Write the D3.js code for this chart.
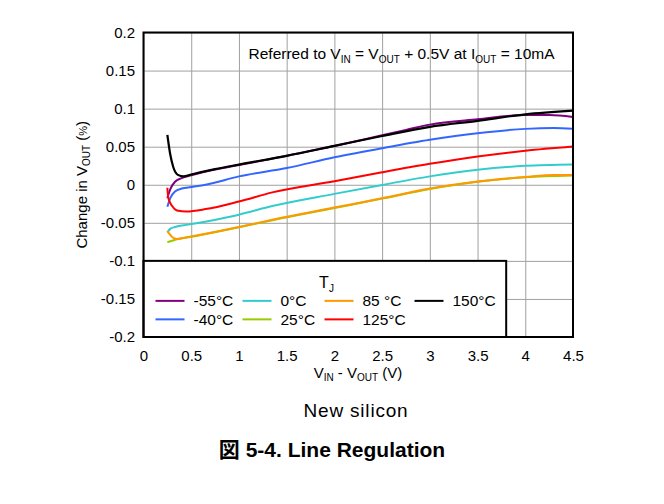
<!DOCTYPE html>
<html>
<head>
<meta charset="utf-8">
<script src="https://cdn.jsdelivr.net/npm/d3@7"></script>
<style>
    body { margin: 0; background: #fff; }
    text { font-family: "Liberation Sans", Arial, "Noto Sans CJK JP", sans-serif; fill: #000; }
</style>
</head>
<body>
<div id="chart"></div>
<script>
"use strict";

// series data: [VIN - VOUT (V), change in VOUT (%)]
let tjNames = ["-55°C", "-40°C", "0°C", "25°C", "85 °C", "125°C", "150°C"];
let tjColors = ["#800080", "#3366ff", "#33cccc", "#99cc00", "#ff9900", "#ff0000", "#000000"];

let seriesM55 = [[0.25, -0.0175], [0.28, -0.006], [0.33, 0.004], [0.4, 0.0088], [0.5, 0.0125], [0.75, 0.02],
    [1, 0.026], [1.5, 0.038], [2, 0.051], [2.5, 0.065], [2.75, 0.072], [3, 0.079], [3.5, 0.086],
    [4, 0.0915], [4.25, 0.0915], [4.5, 0.089]];
let seriesM40 = [[0.25, -0.029], [0.28, -0.0175], [0.33, -0.009], [0.4, -0.005], [0.5, -0.003], [0.65, 0.0],
    [1, 0.011], [1.5, 0.022], [2, 0.036], [2.5, 0.048], [3, 0.059], [3.5, 0.0677], [4, 0.0734],
    [4.3, 0.0745], [4.5, 0.0734]];
let series0 = [[0.25, -0.0625], [0.28, -0.058], [0.33, -0.0555], [0.47, -0.0524], [1, -0.0393], [1.35, -0.028],
    [2, -0.012], [2.5, -0.0002], [3, 0.011], [3.5, 0.0197], [4, 0.0249], [4.5, 0.0266]];
let series25 = [[0.25, -0.0756], [0.35, -0.0715], [0.47, -0.069], [1, -0.0558], [1.35, -0.0465], [2, -0.0305],
    [2.5, -0.0182], [3, -0.0055], [3.5, 0.004], [4, 0.0098], [4.5, 0.0122]];
let series85 = [[0.25, -0.061], [0.3, -0.0686], [0.35, -0.0712], [0.47, -0.0686], [1, -0.0555], [1.35, -0.046],
    [2, -0.03], [2.5, -0.0178], [3, -0.005], [3.5, 0.0043], [4, 0.0101], [4.3, 0.0127], [4.5, 0.0127]];
let series125 = [[0.25, -0.004], [0.26, -0.0175], [0.3, -0.028], [0.35, -0.0337], [0.45, -0.035], [0.65, -0.032],
    [1, -0.022], [1.35, -0.01], [2, 0.0046], [2.5, 0.0164], [3, 0.0275], [3.5, 0.0371], [4, 0.0446], [4.5, 0.0502]];
let series150 = [[0.25, 0.0655], [0.28, 0.04], [0.31, 0.024], [0.36, 0.013], [0.42, 0.011], [0.5, 0.0135],
    [0.75, 0.0205], [1, 0.0265], [1.5, 0.038], [2, 0.051], [2.5, 0.064], [3, 0.076], [3.5, 0.084],
    [4, 0.0925], [4.5, 0.0974]];

let allSeries = [seriesM55, seriesM40, series0, series25, series85, series125, series150];

let xTicks = [0, 0.5, 1, 1.5, 2, 2.5, 3, 3.5, 4, 4.5];
let yTicks = [0.2, 0.15, 0.1, 0.05, 0, -0.05, -0.1, -0.15, -0.2];

// plain hyphen for negative tick labels
function tickText(d) {
    return d3.format("~g")(d).replace("\u2212", "-");
}

function draw() {
    let width = 664;
    let height = 504;
    let margin = { top: 32.5, left: 143.5, right: 91, bottom: 167 };
    let plotW = width - margin.left - margin.right;
    let plotH = height - margin.top - margin.bottom;

    let svg = d3.select("#chart").append("svg")
        .attr("width", width)
        .attr("height", height);

    let g = svg.append("g")
        .attr("transform", `translate(${margin.left},${margin.top})`);

    let xScale = d3.scaleLinear().domain([0, 4.5]).range([0, plotW]);
    let yScale = d3.scaleLinear().domain([-0.2, 0.2]).range([plotH, 0]);

    // grid lines + tick labels
    let xAxis = d3.axisBottom(xScale)
        .tickValues(xTicks)
        .tickSizeInner(-plotH)
        .tickSizeOuter(0)
        .tickFormat(tickText);
    let yAxis = d3.axisLeft(yScale)
        .tickValues(yTicks)
        .tickSizeInner(-plotW)
        .tickSizeOuter(0)
        .tickPadding(8.5)
        .tickFormat(tickText);

    let gx = g.append("g")
        .attr("transform", `translate(0,${plotH})`)
        .call(xAxis);
    let gy = g.append("g").call(yAxis);

    [gx, gy].forEach(a => {
        a.select(".domain").remove();
        a.selectAll("line").attr("stroke", "#a0a0a0").attr("stroke-width", 1);
        a.selectAll("text").style("font-size", "15px").attr("fill", "#000");
    });
    gx.selectAll("text").attr("y", 24).attr("dy", 0);

    // curves
    let line = d3.line()
        .x(d => xScale(d[0]))
        .y(d => yScale(d[1]))
        .curve(d3.curveMonotoneX);

    g.selectAll(".series")
        .data(d3.range(allSeries.length))
        .enter()
        .append("path")
        .attr("class", "series")
        .attr("d", i => line(allSeries[i]))
        .attr("fill", "none")
        .attr("stroke", i => tjColors[i])
        .attr("stroke-width", i => i === 6 ? 2.2 : 2)
        .attr("stroke-linejoin", "round");

    // legend box
    let legX1 = xScale(3.8);
    let legY0 = yScale(-0.1);
    g.append("rect")
        .attr("x", 0)
        .attr("y", legY0)
        .attr("width", legX1)
        .attr("height", plotH - legY0)
        .attr("fill", "#fff")
        .attr("stroke", "#000")
        .attr("stroke-width", 2);

    let tj = g.append("text")
        .attr("x", 183)
        .attr("y", legY0 + 27.5)
        .attr("text-anchor", "middle")
        .style("font-size", "16px");
    tj.append("tspan").text("T");
    tj.append("tspan").attr("dy", 4).style("font-size", "10px").text("J");

    let legendCols = [12, 99, 181, 271];
    let legendRows = [40, 58.5];
    let legendPos = [[0, 0], [0, 1], [1, 0], [1, 1], [2, 0], [2, 1], [3, 0]];

    let legend = g.selectAll(".legend")
        .data(d3.range(tjNames.length))
        .enter()
        .append("g")
        .attr("class", "legend")
        .attr("transform", i => `translate(${legendCols[legendPos[i][0]]},${legY0 + legendRows[legendPos[i][1]]})`);

    legend.append("line")
        .attr("x1", 0)
        .attr("x2", 29)
        .attr("y1", 0)
        .attr("y2", 0)
        .attr("stroke", i => tjColors[i])
        .attr("stroke-width", 2);

    legend.append("text")
        .attr("x", 38)
        .attr("y", 5.5)
        .style("font-size", "15.5px")
        .text(i => tjNames[i]);

    // plot frame
    g.append("rect")
        .attr("x", 0)
        .attr("y", 0)
        .attr("width", plotW)
        .attr("height", plotH)
        .attr("fill", "none")
        .attr("stroke", "#000")
        .attr("stroke-width", 2);

    // annotation
    let note = g.append("text")
        .attr("x", plotW - 18.5)
        .attr("y", 26.5)
        .attr("text-anchor", "end")
        .style("font-size", "15.5px");
    note.append("tspan").text("Referred to V");
    note.append("tspan").attr("dy", 3.5).style("font-size", "10px").text("IN");
    note.append("tspan").attr("dy", -3.5).text(" = V");
    note.append("tspan").attr("dy", 3.5).style("font-size", "10px").text("OUT");
    note.append("tspan").attr("dy", -3.5).text(" + 0.5V at I");
    note.append("tspan").attr("dy", 3.5).style("font-size", "10px").text("OUT");
    note.append("tspan").attr("dy", -3.5).text(" = 10mA");

    // x-axis title
    let xt = svg.append("text")
        .attr("x", 358)
        .attr("y", 378)
        .attr("text-anchor", "middle")
        .style("font-size", "15px");
    xt.append("tspan").text("V");
    xt.append("tspan").attr("dy", 3).style("font-size", "10px").text("IN");
    xt.append("tspan").attr("dy", -3).text(" - V");
    xt.append("tspan").attr("dy", 3).style("font-size", "10px").text("OUT");
    xt.append("tspan").attr("dy", -3).text(" (V)");

    // y-axis title
    let yt = svg.append("text")
        .attr("transform", `translate(87,${margin.top + plotH / 2}) rotate(-90)`)
        .attr("text-anchor", "middle")
        .style("font-size", "15px");
    yt.append("tspan").text("Change in V");
    yt.append("tspan").attr("dy", 3).style("font-size", "10px").text("OUT");
    yt.append("tspan").attr("dy", -3).text(" (");
    yt.append("tspan").style("font-size", "11px").text("%");
    yt.append("tspan").text(")");

    // captions
    svg.append("text")
        .attr("x", 356)
        .attr("y", 417)
        .attr("text-anchor", "middle")
        .style("font-size", "19px")
        .style("letter-spacing", "0.8px")
        .text("New silicon");

    svg.append("text")
        .attr("x", 332)
        .attr("y", 457)
        .attr("text-anchor", "middle")
        .style("font-size", "21px")
        .style("font-weight", "bold")
        .text("図 5-4. Line Regulation");
}

draw();
</script>
</body>
</html>
